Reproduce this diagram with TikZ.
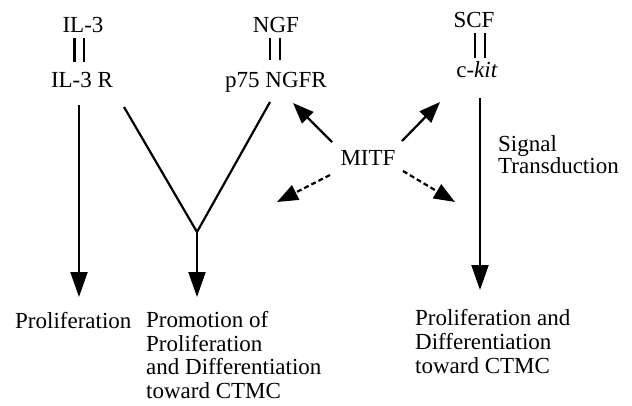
\documentclass[tikz,border=0pt]{standalone}
\usepackage{fontspec}
\setmainfont{Liberation Serif}
\usetikzlibrary{arrows.meta}
\begin{document}
\begin{tikzpicture}[x=1pt,y=-1pt,
  lbl/.style={inner sep=0pt, font=\fontsize{23}{23.5}\selectfont},
  ln/.style={line width=2.2pt},
  bigarr/.style={ln,-{Triangle[length=25pt,width=17pt]}},
  smarr/.style={ln,-{Triangle[length=21pt,width=16pt]}},
  dasharr/.style={smarr, dash pattern=on 5pt off 3pt},
  eqbar/.style={line width=2.6pt}]
\useasboundingbox (0,0) rectangle (632,405);
% labels
\node[lbl,anchor=base] (il3) at (83,32) {IL-3};
\node[lbl,anchor=base] (il3r) at (82,87) {IL-3 R};
\node[lbl,anchor=base] (ngf) at (276,32) {NGF};
\node[lbl,anchor=base] (ngfr) at (276,87) {p75 NGFR};
\node[lbl,anchor=base] (scf) at (474,27) {SCF};
\node[lbl,anchor=base] (ckit) at (477,77) {c-\textit{kit}};
\node[lbl,anchor=base] (mitf) at (368,165) {MITF};
\node[lbl,anchor=base west,align=left,font=\fontsize{23}{21.5}\selectfont] (sig) at (498,173) {Signal\\Transduction};
\node[lbl,anchor=base west] (prol) at (15,328) {Proliferation};
\node[lbl,anchor=base west,align=left] (promo) at (146,398) {Promotion of\\Proliferation\\and Differentiation\\toward CTMC};
\node[lbl,anchor=base west,align=left,font=\fontsize{23}{24}\selectfont] (profd) at (415,373) {Proliferation and\\Differentiation\\toward CTMC};
% binding bars
\draw[eqbar] (74.5,38) -- (74.5,62) (84,38) -- (84,62);
\draw[eqbar] (270,38) -- (270,60) (280,38) -- (280,60);
\draw[eqbar] (475,33) -- (475,58) (485,33) -- (485,58);
% coordinates
\coordinate (a0) at (79,105);
\coordinate (a1) at (79,297);
\coordinate (v1) at (124,107);
\coordinate (v2) at (270,102);
\coordinate (j) at (197,232);
\coordinate (j1) at (197,297);
\coordinate (c0) at (480,98);
\coordinate (c1) at (480,290);
\coordinate (m1) at (332,142);
\coordinate (t1) at (293,103);
\coordinate (m2) at (402,141);
\coordinate (t2) at (440,102);
\coordinate (m3) at (330,175);
\coordinate (t3) at (277,202);
\coordinate (m4) at (403,171);
\coordinate (t4) at (455,202);
% connectors
\draw[bigarr] (a0) -- (a1);
\draw[ln] (v1) -- (j) -- (v2);
\draw[bigarr] (j) -- (j1);
\draw[bigarr] (c0) -- (c1);
\draw[smarr] (m1) -- (t1);
\draw[smarr] (m2) -- (t2);
\draw[dasharr] (m3) -- (t3);
\draw[dasharr] (m4) -- (t4);
\end{tikzpicture}
\end{document}
